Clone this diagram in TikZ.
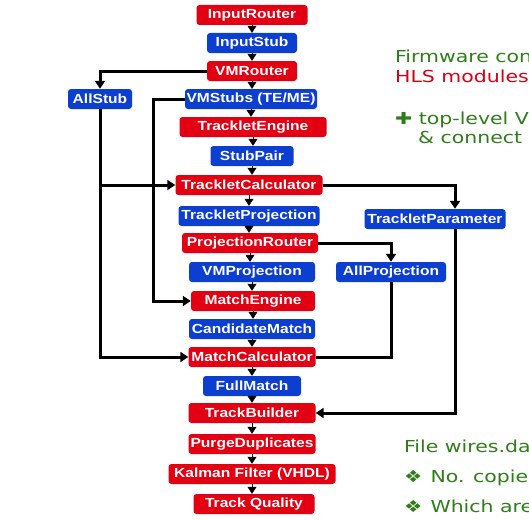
\documentclass[tikz,border=0pt]{standalone}
\usepackage{fontspec}
\setmainfont{Liberation Sans}
\newfontfamily\boxfont[FakeStretch=1.18]{Liberation Sans}
\newfontfamily\notefont[FakeStretch=1.24]{DejaVu Sans}
\usepackage{tikz}
\usetikzlibrary{arrows.meta, positioning}

\definecolor{hlsred}{RGB}{226,0,18}
\definecolor{memblue}{RGB}{12,62,208}
\definecolor{notegreen}{RGB}{46,125,24}
\definecolor{notered}{RGB}{214,0,20}

\begin{document}
\begin{tikzpicture}[x=1pt, y=-1pt,
    modbox/.style={fill=hlsred, text=white, rounded corners=3pt, minimum height=20pt,
        inner sep=0pt, font=\boxfont\bfseries\fontsize{13.2}{15}\selectfont},
    membox/.style={modbox, fill=memblue},
    link/.style={-{Triangle[width=9pt,length=7pt]}, line width=0.6pt},
    wire/.style={-{Triangle[width=10pt,length=8pt]}, line width=3pt},
    note/.style={anchor=base west, inner sep=0pt, text=notegreen,
        font=\notefont\fontsize{16.5}{19}\selectfont}]
    \useasboundingbox (0,0) rectangle (529,519);
    \clip (0,0) rectangle (529,519);

    % processing chain
    \node[modbox, minimum width=111pt] (ir) at (252,15) {InputRouter};
    \node[membox, minimum width=90pt] (is) at (252,43) {InputStub};
    \node[modbox, minimum width=90pt] (vmr) at (252,71) {VMRouter};
    \node[membox, minimum width=64pt] (as) at (100,99) {AllStub};
    \node[membox, minimum width=132pt] (vms) at (251,99) {VMStubs (TE/ME)};
    \node[modbox, minimum width=147pt] (te) at (253,127) {TrackletEngine};
    \node[membox, minimum width=83pt] (sp) at (252,156) {StubPair};
    \node[modbox, minimum width=147pt] (tc) at (249,185) {TrackletCalculator};
    \node[membox, minimum width=141pt] (tproj) at (249,216) {TrackletProjection};
    \node[membox, minimum width=141pt] (tpar) at (435,219) {TrackletParameter};
    \node[modbox, minimum width=136pt] (pr) at (250,243) {ProjectionRouter};
    \node[membox, minimum width=110pt] (ap) at (391,272) {AllProjection};
    \node[membox, minimum width=126pt] (vmp) at (252,272) {VMProjection};
    \node[modbox, minimum width=124pt] (me) at (253,301) {MatchEngine};
    \node[membox, minimum width=126pt] (cm) at (252,329) {CandidateMatch};
    \node[modbox, minimum width=127pt] (mc) at (252,357) {MatchCalculator};
    \node[membox, minimum width=98pt] (fm) at (252,386) {FullMatch};
    \node[modbox, minimum width=127pt] (tb) at (252,413) {TrackBuilder};
    \node[modbox, minimum width=127pt] (pd) at (252,444) {PurgeDuplicates};
    \node[modbox, minimum width=167pt] (kf) at (252,474) {Kalman Filter (VHDL)};
    \node[modbox, minimum width=121pt] (tq) at (254,504) {Track Quality};

    \foreach \a/\b in {ir/is, is/vmr, vmr/vms, vms/te, te/sp, sp/tc, tc/tproj, tproj/pr,
        pr/vmp, vmp/me, me/cm, cm/mc, mc/fm, fm/tb, tb/pd, pd/kf, kf/tq}
        \draw[link] (\a.south) -- (\a.south |- \b.north);

    % side wires
    \coordinate (vmsbend) at (153,99);
    \draw[wire] (vmr.west) -| (as.north);
    \draw[wire] (as.south) |- (tc.west);
    \draw[wire] (as.south) |- (mc.west);
    \draw[wire] (vms.west) -- (vmsbend) |- (me.west);
    \draw[wire] (tc.east) -| ([xshift=20pt]tpar.north);
    \draw[wire] ([xshift=20pt]tpar.south) |- (tb.east);
    \draw[wire] (pr.east) -| (ap.north);
    \draw[wire, -] (ap.south) |- (mc.east);

    % notes on the right
    \node[note] (fw) at (395,62) {Firmware consists};
    \node[note, text=notered] (hls) at (395,82) {HLS modules};
    \node[note] (top) at (395,124) {✚ top-level VHDL};
    \node[note] (conn) at (418,143) {\& connect};
    \node[note] (wires) at (404,452) {File wires.dat};
    \node[note] (copies) at (404,482) {❖\hspace{8pt}No. copies};
    \node[note] (which) at (404,512) {❖\hspace{8pt}Which are};
\end{tikzpicture}
\end{document}
